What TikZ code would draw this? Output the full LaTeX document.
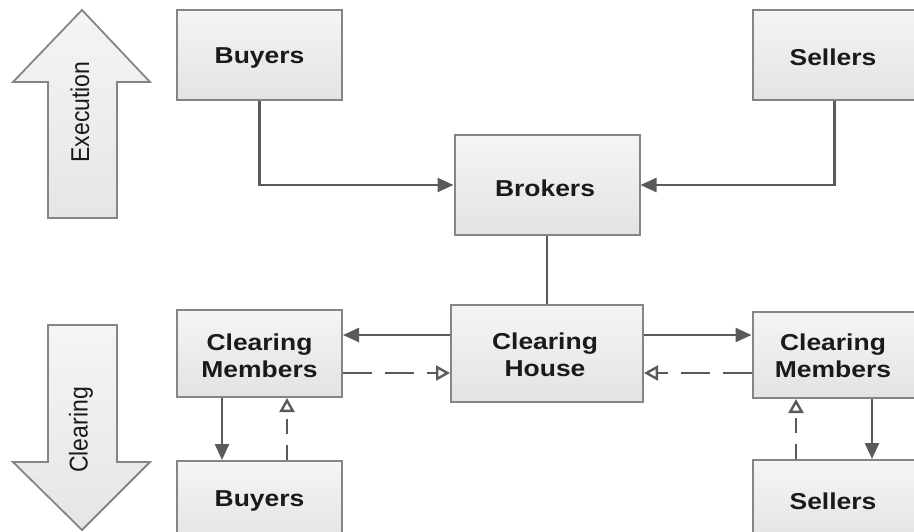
\documentclass[tikz,border=0pt]{standalone}
\usepackage{fontspec}
\usetikzlibrary{arrows.meta}
\newfontfamily\boxfont{Liberation Sans}[FakeStretch=1.15]
\newfontfamily\arrfont{Liberation Sans}
\definecolor{edgegray}{HTML}{858585}
\definecolor{linegray}{HTML}{5A5A5A}
\definecolor{txt}{HTML}{1A1A1A}
\begin{document}
\begin{tikzpicture}[x=1pt,y=-1pt,
  box/.style={draw=edgegray, line width=2pt, top color=white!96!black, bottom color=white!89!black,
    font=\boxfont\bfseries\fontsize{23}{27}\selectfont, text=txt, align=center, inner sep=0pt},
  lbl/.style={text=txt, font=\boxfont\bfseries\fontsize{23}{27}\selectfont, align=center, inner sep=0pt},
  conn/.style={draw=linegray, line width=2.4pt},
  solidarr/.style={conn, -{Triangle[length=16pt,width=14pt]}},
  openarr/.style={conn, dash pattern=on 29pt off 13pt, -{Triangle[open,length=14pt,width=15pt,fill=white]}},
  openarrv/.style={conn, dash pattern=on 15pt off 11pt, -{Triangle[open,length=14pt,width=15pt,fill=white]}},
  bigarrow/.style={draw=edgegray, line width=1.8pt, top color=white!96!black, bottom color=white!90!black},
  arrlabel/.style={font=\arrfont\fontsize{23}{27}\selectfont, text=txt, rotate=90, inner sep=0pt}
]
\useasboundingbox (0,0) rectangle (914,531);
\fill[white] (0,0) rectangle (914,531);

% block arrows
\draw[bigarrow] (48,218) -- (48,82) -- (13,82) -- (82,10) -- (150,82) -- (117,82) -- (117,218) -- cycle;
\node[arrlabel] (exe) at (80,112) {\scalebox{1}[1.12]{Execution}};
\draw[bigarrow] (48,325) -- (48,462) -- (13,462) -- (82,530) -- (150,462) -- (117,462) -- (117,325) -- cycle;
\node[arrlabel] (clr) at (81,430) {\scalebox{1}[1.12]{Clearing}};

% boxes
\node[box, minimum width=165pt, minimum height=90pt] (buy1) at (259.5,55) {};
\node[lbl] (buy1t) at (259.5,58) {Buyers};
\node[box, minimum width=164pt, minimum height=90pt] (sell1) at (834.5,55) {};
\node[lbl] (sell1t) at (833,57) {Sellers};
\node[box, minimum width=185pt, minimum height=100pt] (brok) at (547,185) {};
\node[lbl] (brokt) at (545,188) {Brokers};
\node[box, minimum width=192pt, minimum height=97pt] (ch) at (547,353.5) {};
\node[lbl] (cht) at (545,355) {Clearing\\House};
\node[box, minimum width=165pt, minimum height=87pt] (cmL) at (259.5,353.5) {};
\node[lbl] (cmLt) at (259.5,356) {Clearing\\Members};
\node[box, minimum width=164pt, minimum height=86pt] (cmR) at (834.5,355) {};
\node[lbl] (cmRt) at (833,356) {Clearing\\Members};
\node[box, minimum width=165pt, minimum height=86pt, anchor=north] (buy2) at (259.5,460) {};
\node[lbl] (buy2t) at (259.5,501) {Buyers};
\node[box, minimum width=164pt, minimum height=86pt, anchor=north] (sell2) at (834.5,459) {};
\node[lbl] (sell2t) at (833,501) {Sellers};

% execution connectors
\draw[solidarr] (buy1.south) |- (brok.west);
\draw[solidarr] (sell1.south) |- (brok.east);
\draw[conn] (brok.south) -- (ch.north);

% clearing connectors
\coordinate (chWa) at ([yshift=18.5pt]ch.west);
\coordinate (chWb) at ([yshift=-19.5pt]ch.west);
\coordinate (chEa) at ([yshift=18.5pt]ch.east);
\coordinate (chEb) at ([yshift=-19.5pt]ch.east);
\draw[solidarr] (chWa) -- (chWa -| cmL.east);
\draw[openarr] (chWb -| cmL.east) -- (chWb);
\draw[solidarr] (chEa) -- (chEa -| cmR.west);
\draw[openarr] (chEb -| cmR.west) -- (chEb);

\coordinate (cmLa) at ([xshift=-37.5pt]cmL.south);
\coordinate (cmLb) at ([xshift=27.5pt]cmL.south);
\draw[solidarr] (cmLa) -- (cmLa |- buy2.north);
\draw[openarrv] (cmLb |- buy2.north) -- (cmLb);
\coordinate (cmRa) at ([xshift=37.5pt]cmR.south);
\coordinate (cmRb) at ([xshift=-38.5pt]cmR.south);
\draw[solidarr] (cmRa) -- (cmRa |- sell2.north);
\draw[openarrv] (cmRb |- sell2.north) -- (cmRb);
\end{tikzpicture}
\end{document}
